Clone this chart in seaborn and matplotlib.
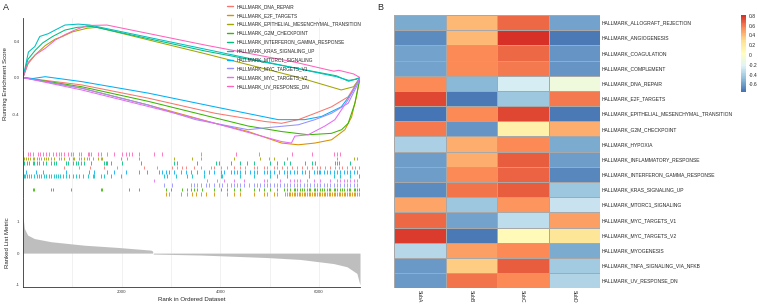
import numpy as np
import pandas as pd
import matplotlib
matplotlib.use('Agg')
import matplotlib.pyplot as plt
import matplotlib.colors as mcolors
from matplotlib.lines import Line2D
import seaborn as sns

# ---- panel A: GSEA running scores ----
sets = ['HALLMARK_DNA_REPAIR', 'HALLMARK_E2F_TARGETS', 'HALLMARK_EPITHELIAL_MESENCHYMAL_TRANSITION',
        'HALLMARK_G2M_CHECKPOINT', 'HALLMARK_INTERFERON_GAMMA_RESPONSE', 'HALLMARK_KRAS_SIGNALING_UP',
        'HALLMARK_MTORC1_SIGNALING', 'HALLMARK_MYC_TARGETS_V1', 'HALLMARK_MYC_TARGETS_V2',
        'HALLMARK_UV_RESPONSE_DN']
set_colors = ['#F8766D', '#D89000', '#A3A500', '#39B600', '#00BF7D', '#00BFC4',
              '#00B0F6', '#9590FF', '#E76BF3', '#FF62BC']

dna_rank = [0, 1190, 2540, 3890, 4900, 5240, 5580, 5920, 6250, 6590, 6800, 6830]
dna_es = [0, -0.08, -0.225, -0.39, -0.48, -0.5, -0.46, -0.39, -0.32, -0.21, -0.03, 0]
e2f_rank = [0, 1190, 2540, 3890, 4565, 5240, 5580, 5916, 6254, 6524, 6660, 6760, 6830]
e2f_es = [0, -0.116, -0.3, -0.5, -0.59, -0.716, -0.735, -0.716, -0.68, -0.57, -0.43, -0.2, 0]
emt_rank = [0, 100, 250, 450, 650, 800, 1000, 1300, 1500, 3700, 5600, 6450, 6700, 6830]
emt_es = [0, 0.15, 0.25, 0.35, 0.42, 0.45, 0.5, 0.54, 0.55, 0.26, 0.0, -0.135, -0.1, 0]
g2m_rank = [0, 1190, 2540, 3890, 4565, 5240, 5780, 6250, 6457, 6590, 6727, 6830]
g2m_es = [0, -0.1, -0.26, -0.44, -0.53, -0.59, -0.625, -0.61, -0.57, -0.5, -0.28, 0]
ifn_rank = [0, 100, 250, 400, 600, 850, 1100, 1400, 3700, 6350, 6600, 6830]
ifn_es = [0, 0.2, 0.3, 0.38, 0.45, 0.52, 0.55, 0.56, 0.29, 0.02, -0.04, 0]
kras_rank = [0, 60, 110, 240, 340, 510, 650, 850, 1120, 1350, 3700, 6350, 6600, 6750, 6830]
kras_es = [0, 0.15, 0.28, 0.34, 0.45, 0.48, 0.52, 0.575, 0.585, 0.575, 0.31, 0.01, -0.03, -0.02, 0]
mtorc1_rank = [0, 200, 450, 1190, 2540, 3890, 5170, 5710, 6050, 6450, 6660, 6830]
mtorc1_es = [0, -0.01, 0.01, -0.044, -0.17, -0.32, -0.46, -0.46, -0.425, -0.32, -0.17, 0]
mycv1_rank = [0, 1190, 2540, 3500, 4565, 4900, 5580, 5916, 6254, 6592, 6795, 6830]
mycv1_es = [0, -0.116, -0.3, -0.46, -0.57, -0.55, -0.516, -0.46, -0.39, -0.28, -0.06, 0]
mycv2_rank = [0, 1190, 2540, 3890, 4565, 5240, 5440, 5510, 5780, 6118, 6321, 6457, 6592, 6727, 6830]
mycv2_es = [0, -0.135, -0.316, -0.5, -0.6, -0.7, -0.716, -0.64, -0.625, -0.53, -0.46, -0.35, -0.24, -0.1, 0]
uvdn_rank = [0, 110, 250, 450, 650, 850, 1050, 1300, 1700, 3700, 5500, 6300, 6400, 6700, 6830]
uvdn_es = [0, 0.17, 0.25, 0.32, 0.41, 0.47, 0.52, 0.57, 0.575, 0.355, 0.17, 0.07, 0.08, 0.04, 0]

# hit positions (ranks) per gene set
dna_hits = [836, 1139, 1357, 1645, 1905, 2453, 2715, 3026, 3127, 3228, 3296, 3464, 3599, 3801, 3869, 4004,
            4138, 4273, 4408, 4509, 4678, 4745, 4880, 4947, 5082, 5149, 5250, 5352, 5453, 5554, 5655, 5756,
            5857, 5958, 6026, 6127, 6228, 6329, 6396, 6464, 6565, 6666, 6733, 6801]
e2f_hits = [2891, 2959, 3195, 3330, 3431, 3498, 3599, 3700, 3869, 4138, 4273, 4408, 4678, 4880, 4947, 5082,
            5149, 5318, 5352, 5385, 5419, 5452, 5486, 5520, 5554, 5588, 5621, 5655, 5689, 5722, 5756, 5790,
            5823, 5857, 5891, 5924, 5958, 5992, 6026, 6060, 6093, 6127, 6160, 6194, 6228, 6262, 6295, 6329,
            6363, 6396, 6430, 6464, 6497, 6531, 6565, 6598, 6632, 6666, 6700, 6733, 6767, 6801, 6821]
emt_hits = [27, 61, 94, 148, 195, 229, 283, 330, 364, 418, 465, 499, 566, 634, 735, 768, 836, 937, 1004,
            1038, 1139, 1173, 1240, 1294, 1341, 1409, 1510, 1577, 1611, 1982, 2116, 2352, 3060, 3431, 3599,
            4273, 4812, 4981, 5082, 5352, 6363, 6700, 6767, 6821]
g2m_hits = [195, 229, 566, 600, 971, 1577, 1611, 2150, 2352, 2891, 2993, 3228, 3330, 3397, 3464, 3532,
            3633, 3869, 4004, 4138, 4273, 4408, 4678, 4779, 4880, 5015, 5149, 5284, 5352, 5419, 5486, 5520,
            5554, 5621, 5655, 5689, 5756, 5790, 5823, 5891, 5924, 5958, 6026, 6060, 6093, 6160, 6194, 6228,
            6295, 6329, 6363, 6430, 6464, 6497, 6565, 6598, 6632, 6700, 6733, 6767, 6801, 6821]
ifn_hits = [27, 81, 128, 195, 229, 283, 330, 398, 465, 566, 634, 667, 869, 903, 1004, 1072, 1105, 1173,
            1240, 1375, 1645, 1678, 1712, 1779, 2015, 2386, 3060, 3127, 3532, 3902, 3970, 4206, 4408, 4543,
            4678, 5015, 5149, 5284, 5419, 5722, 5857, 5924, 6329, 6363, 6396, 6632]
kras_hits = [13, 40, 81, 128, 162, 229, 283, 330, 364, 418, 465, 532, 566, 620, 667, 701, 755, 802, 869,
             937, 1004, 1072, 1139, 1206, 1308, 1409, 1442, 1577, 1645, 1779, 1982, 2858, 2925, 3094, 3330,
             3431, 3667, 4004, 4037, 4408, 4678, 5015, 5149, 5352, 5790, 6295, 6430, 6632, 6801]
mtorc1_hits = [61, 263, 398, 869, 1341, 1442, 1712, 1847, 2083, 2352, 2521, 2757, 2824, 2891, 2959, 3060,
               3195, 3296, 3397, 3532, 3667, 3768, 3869, 4004, 4071, 4206, 4273, 4341, 4408, 4509, 4610,
               4678, 4745, 4880, 4947, 5015, 5082, 5183, 5284, 5352, 5419, 5486, 5554, 5655, 5722, 5790,
               5891, 5958, 5992, 6026, 6093, 6160, 6228, 6295, 6363, 6430, 6497, 6565, 6632, 6700, 6767, 6821]
mycv1_hits = [2858, 3026, 3397, 3464, 3532, 3599, 3700, 3768, 3869, 3970, 4037, 4138, 4206, 4273, 4341,
              4408, 4475, 4576, 4678, 4745, 4812, 4880, 4947, 5015, 5082, 5149, 5217, 5284, 5352, 5419,
              5486, 5554, 5621, 5689, 5756, 5823, 5891, 5958, 6026, 6093, 6160, 6228, 6295, 6363, 6430,
              6497, 6565, 6632, 6700, 6767, 6821]
mycv2_hits = [2656, 3734, 3936, 4071, 4273, 4475, 4880, 4947, 5217, 5419, 5486, 5554, 5621, 5756, 5891,
              6026, 6228, 6363, 6430, 6497, 6565, 6632, 6700, 6767]
uvdn_hits = [94, 148, 195, 297, 350, 398, 465, 532, 600, 667, 735, 768, 836, 903, 971, 1004, 1139, 1173,
             1308, 1341, 1375, 1510, 1577, 1712, 1847, 2015, 2083, 2150, 2217, 2352, 2656, 2824, 3599, 4307,
             4779, 5453, 5857, 6295, 6363, 6430]

# rug row order, top to bottom
rug_order = ['HALLMARK_UV_RESPONSE_DN', 'HALLMARK_EPITHELIAL_MESENCHYMAL_TRANSITION',
             'HALLMARK_INTERFERON_GAMMA_RESPONSE', 'HALLMARK_DNA_REPAIR', 'HALLMARK_MTORC1_SIGNALING',
             'HALLMARK_KRAS_SIGNALING_UP', 'HALLMARK_MYC_TARGETS_V2', 'HALLMARK_MYC_TARGETS_V1',
             'HALLMARK_G2M_CHECKPOINT', 'HALLMARK_E2F_TARGETS']

# ranked list metric
metric_rank = [0, 27, 94, 229, 566, 1240, 1914, 2588, 2622, 2642, 3599, 4947, 5621, 6295, 6565, 6767, 6821, 6830]
metric_val = [1.15, 0.78, 0.57, 0.46, 0.36, 0.25, 0.18, 0.095, 0.07, -0.03, -0.06, -0.14, -0.2, -0.33,
              -0.43, -0.64, -0.96, -1.0]

# ---- panel B: heatmap ----
pathways = ['HALLMARK_ALLOGRAFT_REJECTION', 'HALLMARK_ANGIOGENESIS', 'HALLMARK_COAGULATION',
            'HALLMARK_COMPLEMENT', 'HALLMARK_DNA_REPAIR', 'HALLMARK_E2F_TARGETS',
            'HALLMARK_EPITHELIAL_MESENCHYMAL_TRANSITION', 'HALLMARK_G2M_CHECKPOINT', 'HALLMARK_HYPOXIA',
            'HALLMARK_INFLAMMATORY_RESPONSE', 'HALLMARK_INTERFERON_GAMMA_RESPONSE',
            'HALLMARK_KRAS_SIGNALING_UP', 'HALLMARK_MTORC1_SIGNALING', 'HALLMARK_MYC_TARGETS_V1',
            'HALLMARK_MYC_TARGETS_V2', 'HALLMARK_MYOGENESIS', 'HALLMARK_TNFA_SIGNALING_VIA_NFKB',
            'HALLMARK_UV_RESPONSE_DN']
samples = ['SubA', 'SubB', 'SubC', 'SubD']
subA = [-0.55, -0.66, -0.58, -0.58, 0.55, 0.75, -0.75, 0.6, -0.4, -0.6, -0.6, -0.66, 0.48, 0.65, 0.78, -0.37, -0.62, -0.62]
subB = [0.42, 0.42, 0.55, 0.55, -0.5, -0.72, 0.55, -0.64, 0.45, 0.45, 0.55, 0.62, -0.45, -0.58, -0.72, 0.5, 0.35, 0.62]
subC = [0.65, 0.815, 0.65, 0.6, -0.25, -0.45, 0.75, 0.15, 0.55, 0.68, 0.66, 0.68, 0.52, -0.33, 0.07, 0.55, 0.68, 0.55]
subD = [-0.58, -0.72, -0.64, -0.64, -0.1, 0.6, -0.73, 0.45, -0.55, -0.6, -0.68, -0.45, -0.3, 0.5, 0.25, -0.55, -0.43, -0.38]
cbar_ticks = [0.8, 0.6, 0.4, 0.2, 0, -0.2, -0.4, -0.6]

sns.set_style('white')
plt.rcParams['font.family'] = ['Liberation Sans', 'DejaVu Sans']

W, H = 758, 304
fig = plt.figure(figsize=(W / 100, H / 100), dpi=100)


def box(x0, y0, x1, y1):
    return [x0 / W, 1 - y1 / H, (x1 - x0) / W, (y1 - y0) / H]


ax_es = fig.add_axes(box(23, 18, 360.5, 150))
ax_rug = fig.add_axes(box(23, 150, 360.5, 198))
ax_rank = fig.add_axes(box(23, 198, 360.5, 287))

ranks = [dna_rank, e2f_rank, emt_rank, g2m_rank, ifn_rank, kras_rank, mtorc1_rank, mycv1_rank, mycv2_rank, uvdn_rank]
scores = [dna_es, e2f_es, emt_es, g2m_es, ifn_es, kras_es, mtorc1_es, mycv1_es, mycv2_es, uvdn_es]
hits = [dna_hits, e2f_hits, emt_hits, g2m_hits, ifn_hits, kras_hits, mtorc1_hits, mycv1_hits, mycv2_hits, uvdn_hits]

curves = pd.concat([pd.DataFrame({'rank': r, 'es': s, 'set': n}) for r, s, n in zip(ranks, scores, sets)],
                   ignore_index=True)
palette = dict(zip(sets, set_colors))

for ax in (ax_es, ax_rug, ax_rank):
    for g in range(1000, 7000, 1000):
        ax.axvline(g, color='#EBEBEB', lw=0.5, zorder=0)
    ax.set_xlim(0, 6840)
    for s in ('top', 'right', 'bottom'):
        ax.spines[s].set_visible(False)
    ax.spines['left'].set_linewidth(0.6)
    ax.spines['left'].set_color('#333333')

sns.lineplot(data=curves, x='rank', y='es', hue='set', hue_order=sets, palette=palette,
             sort=False, estimator=None, lw=0.75, legend=False, ax=ax_es)
ax_es.set_ylim(-0.792, 0.652)
ax_es.set_yticks([0.4, 0.0, -0.4])
ax_es.set_yticklabels(['0.4', '0.0', '-0.4'])
ax_es.set_xticks([])
ax_es.set_xlabel('')
ax_es.set_ylabel('Running Enrichment Score', fontsize=4.4, labelpad=3)
ax_es.tick_params(axis='y', labelsize=3.2, length=1.5, width=0.5, pad=1, colors='#444444')

for i, name in enumerate(rug_order):
    k = sets.index(name)
    row = 9 - i
    ax_rug.vlines(hits[k], row + 0.1, row + 0.9, color=set_colors[k], lw=0.6)
ax_rug.set_ylim(-0.4, 10.4)
ax_rug.set_xticks([])
ax_rug.set_yticks([])

ax_rank.fill_between(metric_rank, 0, metric_val, color='#BEBEBE', lw=0)
ax_rank.set_ylim(-1.07, 1.74)
ax_rank.spines['bottom'].set_visible(True)
ax_rank.spines['bottom'].set_linewidth(0.6)
ax_rank.spines['bottom'].set_color('#333333')
ax_rank.set_yticks([1, 0, -1])
ax_rank.set_yticklabels(['1', '0', '-1'])
ax_rank.set_xticks([2000, 4000, 6000])
ax_rank.tick_params(labelsize=3.2, length=1.5, width=0.5, pad=1, colors='#444444')
ax_rank.set_ylabel('Ranked List Metric', fontsize=4.4, labelpad=4)
ax_rank.set_xlabel('Rank in Ordered Dataset', fontsize=4.4, labelpad=2)

handles = [Line2D([0], [0], color=c, lw=1.0) for c in set_colors]
fig.legend(handles, sets, loc='upper left', bbox_to_anchor=(226.5 / W, 1 - 4 / H), frameon=False,
           fontsize=3.4, handlelength=1.3, handletextpad=0.75, labelspacing=0.82, borderpad=0,
           borderaxespad=0)

# heatmap
heat = pd.DataFrame({'SubA': subA, 'SubB': subB, 'SubC': subC, 'SubD': subD}, index=pathways)[samples]
cmap = mcolors.LinearSegmentedColormap.from_list(
    'pheat', ['#4575B4', '#91BFDB', '#E0F3F8', '#FFFFBF', '#FEE090', '#FC8D59', '#D73027'], N=100)
ax_hm = fig.add_axes(box(394, 15, 600, 288.3))
ax_cb = fig.add_axes(box(740.7, 15, 746.2, 91.7))
sns.heatmap(heat, cmap=cmap, vmin=-0.75, vmax=0.815, ax=ax_hm, cbar_ax=ax_cb,
            linewidths=0.45, linecolor='#A8A8A8')
ax_hm.yaxis.tick_right()
ax_hm.set_yticks(np.arange(len(pathways)) + 0.5)
ax_hm.set_yticklabels(pathways, rotation=0, fontsize=3.6)
ax_hm.set_xticklabels(samples, rotation=270, fontsize=3.6)
ax_hm.tick_params(length=0, pad=1.5)
ax_hm.set_xlabel('')
ax_hm.set_ylabel('')

cbar = ax_hm.collections[0].colorbar
cbar.outline.set_visible(False)
cbar.set_ticks(cbar_ticks)
cbar.set_ticklabels(['0.8', '0.6', '0.4', '0.2', '0', '-0.2', '-0.4', '-0.6'])
ax_cb.tick_params(labelsize=3.6, length=0, pad=1.5)

fig.text(3 / W, 1 - 8 / H, 'A', fontsize=6.5, va='center', ha='left')
fig.text(377 / W, 1 - 8 / H, 'B', fontsize=6.5, va='center', ha='left')

fig.savefig('out.png', dpi=100)
